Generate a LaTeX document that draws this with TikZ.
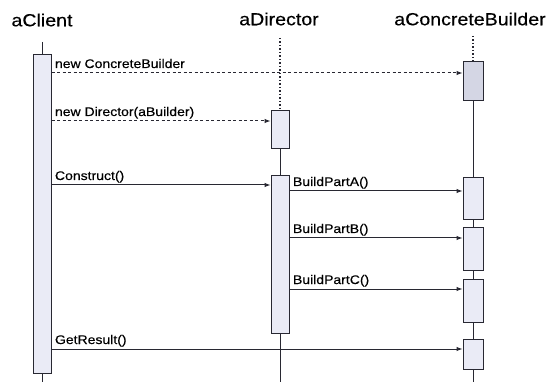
\documentclass[tikz,border=0pt]{standalone}
\usepackage{fontspec}
\setmainfont{Liberation Sans}[FakeStretch=1.12, FakeBold=0.4]
\usetikzlibrary{arrows.meta}
\definecolor{ink}{RGB}{40,40,50}
\definecolor{actfill}{RGB}{234,235,246}
\definecolor{actgray}{RGB}{212,214,228}

\begin{document}
\begin{tikzpicture}[x=1pt, y=-1pt, >={Latex[length=6pt,width=4.5pt]},
  obj/.style={font=\fontsize{17.5}{20}\selectfont, inner sep=0pt},
  act/.style={draw=ink, fill=actfill, line width=1pt, minimum width=18pt, inner sep=0pt, anchor=north},
  life/.style={draw=ink, line width=1pt},
  idle/.style={draw=ink, line width=1.4pt, dash pattern=on 1.5pt off 2pt},
  msg/.style={->, draw=ink, line width=1pt},
  create/.style={msg, dash pattern=on 3pt off 2.5pt},
  lbl/.style={font=\fontsize{12.5}{14}\selectfont, inner sep=0pt, anchor=base west, xshift=3pt, yshift=5pt}]

% sfondo
\fill[white] (0,0) rectangle (549,382);
\useasboundingbox (0,0) rectangle (549,382);

% oggetti
\node[obj] (tCl) at (42,20) {aClient};
\node[obj] (tDir) at (279,19) {aDirector};
\node[obj] (tBld) at (470,19) {aConcreteBuilder};

% attivazioni
\node[act, minimum height=319pt] (cl) at (42,54) {};
\node[act, minimum height=38pt] (dir1) at (280,110) {};
\node[act, minimum height=158pt] (dir2) at (280,175) {};
\node[act, fill=actgray, minimum width=20pt, minimum height=39pt] (bld1) at (473,61) {};
\node[act, minimum width=20pt, minimum height=42pt] (bld2) at (473,177) {};
\node[act, minimum width=20pt, minimum height=43pt] (bld3) at (473,227) {};
\node[act, minimum width=20pt, minimum height=43pt] (bld4) at (473,279) {};
\node[act, minimum width=20pt, minimum height=30pt] (bld5) at (473,339) {};

% linee di vita
\coordinate (clTop) at (42,42);
\coordinate (clEnd) at (42,382);
\coordinate (dirTop) at (280,38);
\coordinate (dirEnd) at (280,382);
\coordinate (bldTop) at (473,36);
\coordinate (bldEnd) at (473,382);
\draw[life] (clTop) -- (cl.north);
\draw[life] (cl.south) -- (clEnd);
\draw[idle] (dirTop) -- (dir1.north);
\draw[life] (dir1.south) -- (dir2.north);
\draw[life] (dir2.south) -- (dirEnd);
\draw[idle] (bldTop) -- (bld1.north);
\draw[life] (bld1.south) -- (bld2.north);
\draw[life] (bld2.south) -- (bld3.north);
\draw[life] (bld3.south) -- (bld4.north);
\draw[life] (bld4.south) -- (bld5.north);
\draw[life] (bld5.south) -- (bldEnd);

% messaggi
\coordinate (m1) at (bld1.west |- 0,73);
\coordinate (m2) at (dir1.west |- 0,121);
\coordinate (m3) at (dir2.west |- 0,185);
\coordinate (m4) at (bld2.west |- 0,191);
\coordinate (m5) at (bld3.west |- 0,238);
\coordinate (m6) at (bld4.west |- 0,289);
\coordinate (m7) at (bld5.west |- 0,349);
\draw[create] (cl.east |- m1) -- (m1) node[lbl, pos=0] {new ConcreteBuilder};
\draw[create] (cl.east |- m2) -- (m2) node[lbl, pos=0] {new Director(aBuilder)};
\draw[msg] (cl.east |- m3) -- (m3) node[lbl, pos=0] {Construct()};
\draw[msg] (dir2.east |- m4) -- (m4) node[lbl, pos=0] {BuildPartA()};
\draw[msg] (dir2.east |- m5) -- (m5) node[lbl, pos=0] {BuildPartB()};
\draw[msg] (dir2.east |- m6) -- (m6) node[lbl, pos=0] {BuildPartC()};
\draw[msg] (cl.east |- m7) -- (m7) node[lbl, pos=0] {GetResult()};

\end{tikzpicture}
\end{document}
